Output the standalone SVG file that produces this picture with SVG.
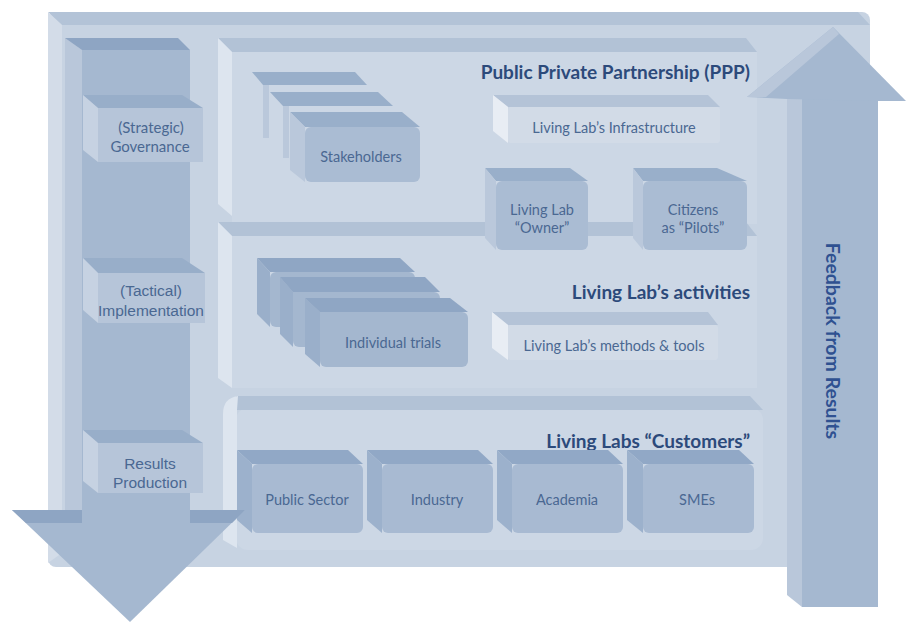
<svg xmlns="http://www.w3.org/2000/svg" width="906" height="624" viewBox="0 0 906 624">
<style>
  .lbl{font-family:Lato,"Open Sans","Liberation Sans",sans-serif;font-size:14.5px;fill:#4a6892;text-anchor:middle}
  .arl{font-family:"Liberation Sans",Arial,sans-serif;font-size:15.5px;fill:#4a6892;text-anchor:middle}
  .ttl{font-family:Lato,"Open Sans","Liberation Sans",sans-serif;font-size:19px;font-weight:bold;fill:#2c4a7b;text-anchor:end}
  .fb{font-family:Lato,"Open Sans","Liberation Sans",sans-serif;font-size:19.5px;font-weight:bold;fill:#2f5191;text-anchor:middle}
  .fface{fill:#c7d3e2}.ftop{fill:#b3c3d7}.fside{fill:#d3dce8}
  .pface{fill:#ccd7e5}.ptop{fill:#b2c2d6}.pside{fill:#dde5ef}
  .cface{fill:#a8bad2}.ctop{fill:#91a8c6}.cside{fill:#9cb1cc}
  .gface{fill:#b6c5d9}.gtop{fill:#98aec9}.gside{fill:#c6d2e2}
  .sface{fill:#aabcd3}.stop{fill:#99afca}.sside{fill:#bac8db}
  .tface{fill:#a4b7cf}.ttop{fill:#8fa6c4}.tside{fill:#9aafca}
  .lface{fill:#d2dbe7}.ltop{fill:#b4c3d7}.lside{fill:#e8edf4}
  .arrow{fill:#a5b8d0}.arrowlt{fill:#b9c7da}.arrowdk{fill:#8ea5c3}
</style>

<!-- Outer frame -->
<g id="frame">
  <rect x="48" y="12" width="822" height="555" rx="8" class="fface"/>
  <polygon points="48,12 858,12 870,25 62,25" class="ftop"/>
  <polygon points="48,12 62,25 62,553 48,563" class="fside"/>
</g>

<!-- Panels -->
<g id="panel-ppp">
  <rect x="232" y="52" width="525" height="172" class="pface"/>
  <polygon points="218,38 746,38 757,52 232,52" class="ptop"/>
  <polygon points="218,38 232,52 232,216 218,204" class="pside"/>
  <text x="750" y="79" class="ttl">Public Private Partnership (PPP)</text>
</g>
<g id="panel-activities">
  <rect x="232" y="236" width="525" height="152" class="pface"/>
  <polygon points="218,222 746,222 757,236 232,236" class="ptop"/>
  <polygon points="218,222 232,236 232,388 218,378" class="pside"/>
  <text x="750" y="299" class="ttl">Living Lab’s activities</text>
</g>
<g id="panel-customers">
  <rect x="236" y="408" width="527" height="142" rx="12" class="pface"/>
  <path d="M236,396 L750,396 L763,410 L236,410 Z" class="ptop"/>
  <path d="M238,396 Q223,398 223,414 L223,540 L237,548 L237,410 Z" class="pside"/>
  <text x="750" y="448" class="ttl">Living Labs “Customers”</text>
</g>

<!-- Customers -->
<g id="public-sector">
  <polygon points="237,450 348,450 363,464 252,464" class="ctop"/>
  <polygon points="237,450 252,464 252,533 237,520" class="cside"/>
  <rect x="252" y="464" width="111" height="69" rx="6" class="cface"/>
  <text x="307" y="505" class="lbl">Public Sector</text>
</g>
<g id="industry">
  <polygon points="367,450 478,450 493,464 382,464" class="ctop"/>
  <polygon points="367,450 382,464 382,533 367,520" class="cside"/>
  <rect x="382" y="464" width="111" height="69" rx="6" class="cface"/>
  <text x="437" y="505" class="lbl">Industry</text>
</g>
<g id="academia">
  <polygon points="497,450 608,450 623,464 512,464" class="ctop"/>
  <polygon points="497,450 512,464 512,533 497,520" class="cside"/>
  <rect x="512" y="464" width="111" height="69" rx="6" class="cface"/>
  <text x="567" y="505" class="lbl">Academia</text>
</g>
<g id="smes">
  <polygon points="627,450 739,450 754,464 643,464" class="ctop"/>
  <polygon points="627,450 643,464 643,533 627,520" class="cside"/>
  <rect x="643" y="464" width="111" height="69" rx="6" class="cface"/>
  <text x="697" y="505" class="lbl">SMEs</text>
</g>

<!-- Connectors (big arrows) -->
<g id="connectors">
  <g id="arrow-down">
    <polygon points="65,38 82,50 82,512 65,512" class="arrowlt"/>
    <rect x="82" y="50" width="108" height="462" class="arrow"/>
    <polygon points="65,38 178,38 190,50 82,50" class="arrowdk"/>
    <polygon points="12,510 245,510 130,622" class="arrow"/>
    <polygon points="12,510 82,510 82,523 26,523" class="arrowdk"/>
    <polygon points="190,510 245,510 232,523 190,523" class="arrowdk"/>
  </g>
  <g id="arrow-up">
    <polygon points="787,98 802,98 802,607 787,595" class="arrowlt"/>
    <rect x="802" y="98" width="76" height="509" class="arrow"/>
    <polygon points="747,97 833,27 906,101 878,101 787,99" class="arrow"/>
    <polygon points="747,97 833,27 839,34 766,97" class="arrowlt"/>
    <text transform="translate(826,341) rotate(90)" class="fb">Feedback from Results</text>
  </g>
</g>

<!-- Left column nodes -->
<g id="governance">
  <polygon points="83,95 182,95 203,108 98,108" class="gtop"/>
  <polygon points="83,95 98,108 98,162 83,150" class="gside"/>
  <rect x="98" y="108" width="105" height="54" class="gface"/>
  <text x="151" y="133" class="lbl" style="font-size:15px">(Strategic)</text>
  <text x="150" y="152" class="lbl" style="font-size:15px">Governance</text>
</g>
<g id="implementation">
  <polygon points="83,258 182,258 205,273 98,273" class="gtop"/>
  <polygon points="83,258 98,273 98,323 83,310" class="gside"/>
  <rect x="98" y="273" width="107" height="50" class="gface"/>
  <text x="151" y="296" class="arl">(Tactical)</text>
  <text x="151" y="316" class="arl">Implementation</text>
</g>
<g id="results-production">
  <polygon points="83,430 182,430 203,443 98,443" class="gtop"/>
  <polygon points="83,430 98,443 98,493 83,481" class="gside"/>
  <rect x="98" y="443" width="105" height="50" class="gface"/>
  <text x="150" y="469" class="arl">Results</text>
  <text x="150" y="488" class="arl">Production</text>
</g>

<!-- PPP nodes -->
<g id="stakeholders">
  <polygon points="252,72 355,72 367,85 263,85" class="stop"/>
  <rect x="263" y="85" width="6" height="53" class="sside"/>
  <polygon points="270,92 378,92 393,106 283,106" class="stop"/>
  <rect x="283" y="106" width="6" height="52" class="sside"/>
  <polygon points="290,112 402,112 420,127 305,127" class="stop"/>
  <polygon points="290,112 305,127 305,182 290,170" class="sside"/>
  <rect x="305" y="127" width="115" height="55" rx="6" class="sface"/>
  <text x="361" y="162" class="lbl">Stakeholders</text>
</g>
<g id="infrastructure">
  <polygon points="493,95 708,95 720,107 508,107" class="ltop"/>
  <polygon points="493,95 508,107 508,143 493,131" class="lside"/>
  <rect x="508" y="107" width="212" height="36" rx="3" class="lface"/>
  <text x="614" y="133" class="lbl">Living Lab’s Infrastructure</text>
</g>
<g id="owner">
  <polygon points="485,168 570,168 588,181 496,181" class="stop"/>
  <polygon points="485,168 496,181 496,250 485,238" class="sside"/>
  <rect x="496" y="181" width="92" height="69" rx="6" class="sface"/>
  <text x="542" y="215" class="lbl">Living Lab</text>
  <text x="542" y="233" class="lbl">“Owner”</text>
</g>
<g id="citizens">
  <polygon points="633,168 717,168 747,181 643,181" class="stop"/>
  <polygon points="633,168 643,181 643,250 633,238" class="sside"/>
  <rect x="643" y="181" width="104" height="69" rx="6" class="sface"/>
  <text x="693" y="215" class="lbl">Citizens</text>
  <text x="693" y="233" class="lbl">as “Pilots”</text>
</g>

<!-- Activities nodes -->
<g id="individual-trials">
  <polygon points="257,258 400,258 415,272 270,272" class="ttop"/>
  <polygon points="257,258 270,272 270,327 257,314" class="tside"/>
  <rect x="270" y="272" width="145" height="55" rx="6" class="tface"/>
  <polygon points="280,277 425,277 440,292 293,292" class="ttop"/>
  <polygon points="280,277 293,292 293,347 280,334" class="tside"/>
  <rect x="293" y="292" width="147" height="55" rx="6" class="tface"/>
  <polygon points="305,298 450,298 468,312 320,312" class="ttop"/>
  <polygon points="305,298 320,312 320,367 305,354" class="tside"/>
  <rect x="320" y="312" width="148" height="55" rx="6" class="tface"/>
  <text x="393" y="348" class="lbl">Individual trials</text>
</g>
<g id="methods-tools">
  <polygon points="492,312 708,312 718,325 508,325" class="ltop"/>
  <polygon points="492,312 508,325 508,360 492,348" class="lside"/>
  <rect x="508" y="325" width="210" height="35" rx="3" class="lface"/>
  <text x="614" y="351" class="lbl">Living Lab’s methods &amp; tools</text>
</g>
</svg>
